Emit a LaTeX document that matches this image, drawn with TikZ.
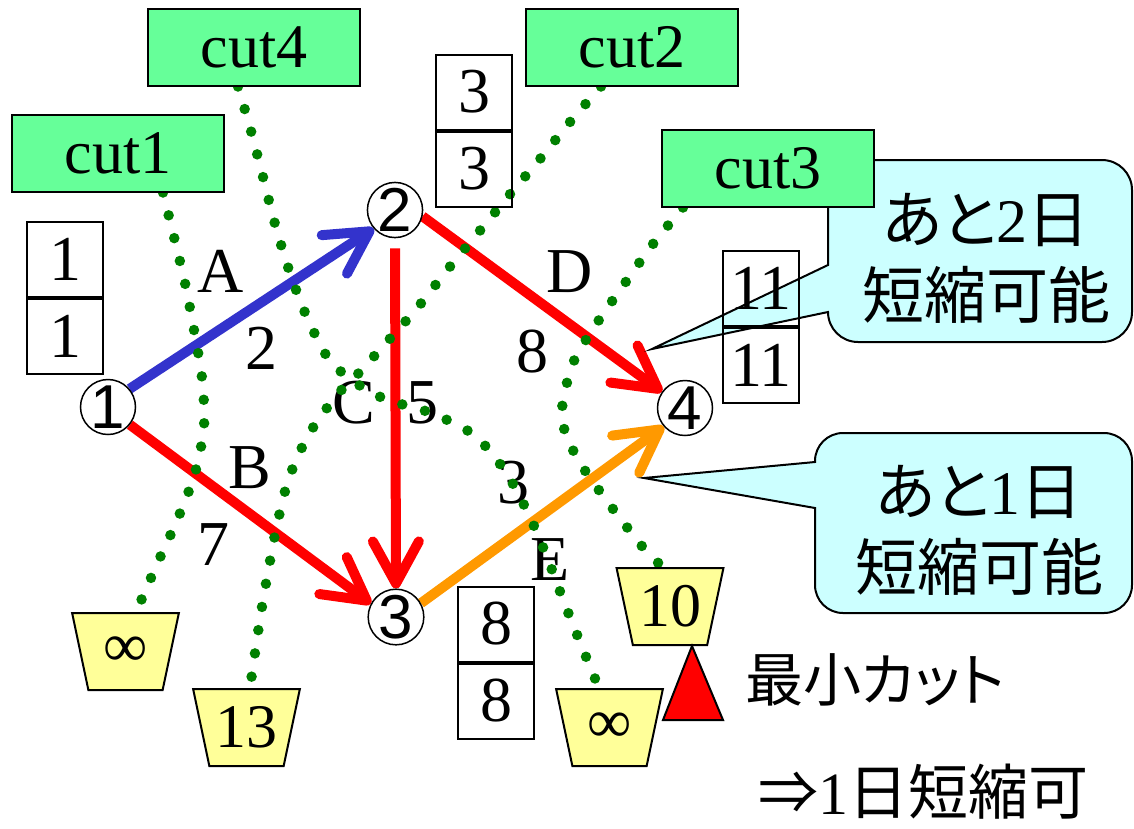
\documentclass[tikz,border=0pt]{standalone}
\usepackage{fontspec}
\setmainfont{Liberation Serif}
\newfontfamily\jpfont[RawFeature=+palt]{Noto Sans CJK JP}
\newfontfamily\numfont{Liberation Sans}
\usetikzlibrary{arrows.meta, positioning, shapes.geometric}
\definecolor{cutgreen}{HTML}{66FF99}
\definecolor{dotgreen}{HTML}{008000}
\definecolor{bucketyellow}{HTML}{FFFF99}
\definecolor{calloutcyan}{HTML}{CCFFFF}
\definecolor{arrowblue}{HTML}{3333CC}
\definecolor{arroworange}{HTML}{FF9900}
\pgfdeclarelayer{under}
\pgfdeclarelayer{dots}
\pgfsetlayers{under,dots,main}

\begin{document}
\begin{tikzpicture}[x=1pt, y=-1pt,
    event/.style={circle, draw, line width=1.5pt, minimum size=55pt, inner sep=0pt, font=\numfont\fontsize{62}{62}\selectfont},
    act/.style={line width=10pt, -{Straight Barb[length=42pt, width=46pt, round]}},
    lbl/.style={inner sep=0pt, font=\fontsize{64}{64}\selectfont},
    timebox/.style={draw, line width=2pt, minimum width=76pt, minimum height=75pt, inner sep=0pt, font=\fontsize{64}{64}\selectfont},
    cutbox/.style={draw, line width=2pt, fill=cutgreen, minimum width=212pt, minimum height=77pt, inner sep=0pt, font=\fontsize{62}{62}\selectfont},
    bucket/.style={trapezium, shape border rotate=180, trapezium left angle=72, trapezium right angle=72,
        trapezium stretches=true, draw, line width=2pt, fill=bucketyellow, minimum width=107pt, minimum height=77pt,
        inner sep=0pt, font=\fontsize{62}{62}\selectfont},
    cutline/.style={dotgreen, line width=10.5pt, line cap=round, dash pattern=on 0pt off 23.5pt},
    balloon/.style={draw, line width=2pt, fill=calloutcyan},
    jp/.style={inner sep=0pt, align=center, font=\jpfont\fontsize{62}{76}\selectfont}]
    \useasboundingbox (0,0) rectangle (1134,828);

    \node[event] (n1) at (108,407) {1};
    \node[event] (n2) at (395,210) {2};
    \node[event] (n3) at (396,617) {3};
    \node[event] (n4) at (685,408) {4};

    \begin{pgfonlayer}{under}
    \draw[act, arrowblue] (n1.40) -- (n2.221);
    \draw[act, red] (n1.-39) -- (n3.152);
    \draw[act, red, shorten <=10pt] (n2.south) -- (n3.north);
    \draw[act, red] (n2.-13) -- (n4.145);
    \draw[act, arroworange] (n3.29) -- (n4.221);

    \node[lbl] (la) at (221,271) {A};
    \node[lbl] (da) at (261,348) {2};
    \node[lbl] (lb) at (250,468) {B};
    \node[lbl] (db) at (213,545) {7};
    \node[lbl] (lc) at (354,403) {C};
    \node[lbl] (dc) at (422,403) {5};
    \node[lbl] (ld) at (570,272) {D};
    \node[lbl] (dd) at (532,352) {8};
    \node[lbl] (le) at (550,560) {E};
    \node[lbl] (de) at (513,483) {3};
    \end{pgfonlayer}

    \filldraw[balloon, rounded corners=30pt] (980,160) -- (828,160) [sharp corners] -- (828,265) -- (652,349)
        -- (828,312) [rounded corners=30pt] -- (828,342) -- (1132,342) -- (1132,160) -- cycle;
    \node[jp] (note2) at (986,258) {あと{\rmfamily 2}日\\短縮可能};
    \filldraw[balloon, rounded corners=28pt] (975,433) -- (815,433) [sharp corners] -- (815,462) -- (644,478)
        -- (815,508) [rounded corners=28pt] -- (815,613) -- (1132,613) -- (1132,433) -- cycle;
    \node[jp] (note1) at (979,530) {あと{\rmfamily 1}日\\短縮可能};

    \node[timebox] (t1a) at (65,259) {1};
    \node[timebox, below=0pt of t1a] (t1b) {1};
    \node[timebox] (t2a) at (474,92) {3};
    \node[timebox, below=0pt of t2a] (t2b) {3};
    \node[timebox] (t3a) at (496,624) {8};
    \node[timebox, below=0pt of t3a] (t3b) {8};
    \node[timebox] (t4a) at (761,288) {11};
    \node[timebox, below=0pt of t4a] (t4b) {11};

    \node[bucket] (bk1) at (125.5,651.5) {∞};
    \node[bucket] (bk2) at (246.5,727.5) {13};
    \node[bucket] (bk3) at (670,606.5) {10};
    \node[bucket] (bk4) at (609.5,727.5) {∞};

    \node[cutbox] (cut1) at (118,153) {cut1};
    \node[cutbox] (cut4) at (254,47) {cut4};
    \node[cutbox] (cut2) at (632,47) {cut2};
    \node[cutbox] (cut3) at (768,168) {cut3};

    \begin{pgfonlayer}{dots}
    \draw[cutline] plot[smooth] coordinates {([xshift=45pt]cut1.south) (174,237) (185,283) (194,330) (202,378)
        (204,426) (195,473) (178,518) (158,562) (bk1.75)};
    \draw[cutline] plot[smooth] coordinates {([xshift=-16pt]cut4.south) (251,131) (263,177) (275,224) (289,270)
        (306,315) (328,358) (353,381) (385,399) (431,413) (474,435) (505,471) (528,513) (547,557) (564,602)
        (582,647) (bk4.105)};
    \draw[cutline] plot[smooth] coordinates {([xshift=-31pt]cut2.south) (570,122) (540,159) (511,193) (478,233)
        (448,269) (418,307) (386,343) (356,376) (337,395) (309,434) (289,478) (277,525) (268,572) (260,619)
        (253,667) (bk2.85)};
    \draw[cutline] plot[smooth] coordinates {([xshift=-85pt]cut3.south) (653,244) (625,283) (597,323) (573,363)
        (562,408) (565,432) (575,454) (588,475) (616,513) (646,551) (bk3.100)};
    \end{pgfonlayer}

    \filldraw[fill=red, line width=2pt] (692,646) -- (723,720) -- (663,720) -- cycle;
    \node[anchor=west, inner sep=0pt, font=\jpfont\fontsize{58}{58}\selectfont] (mincut) at (745,680) {最小カット};
    \node[anchor=west, inner sep=0pt, font=\jpfont\fontsize{60}{60}\selectfont] (result) at (758,792) {⇒{\rmfamily 1}日短縮可};
\end{tikzpicture}
\end{document}
